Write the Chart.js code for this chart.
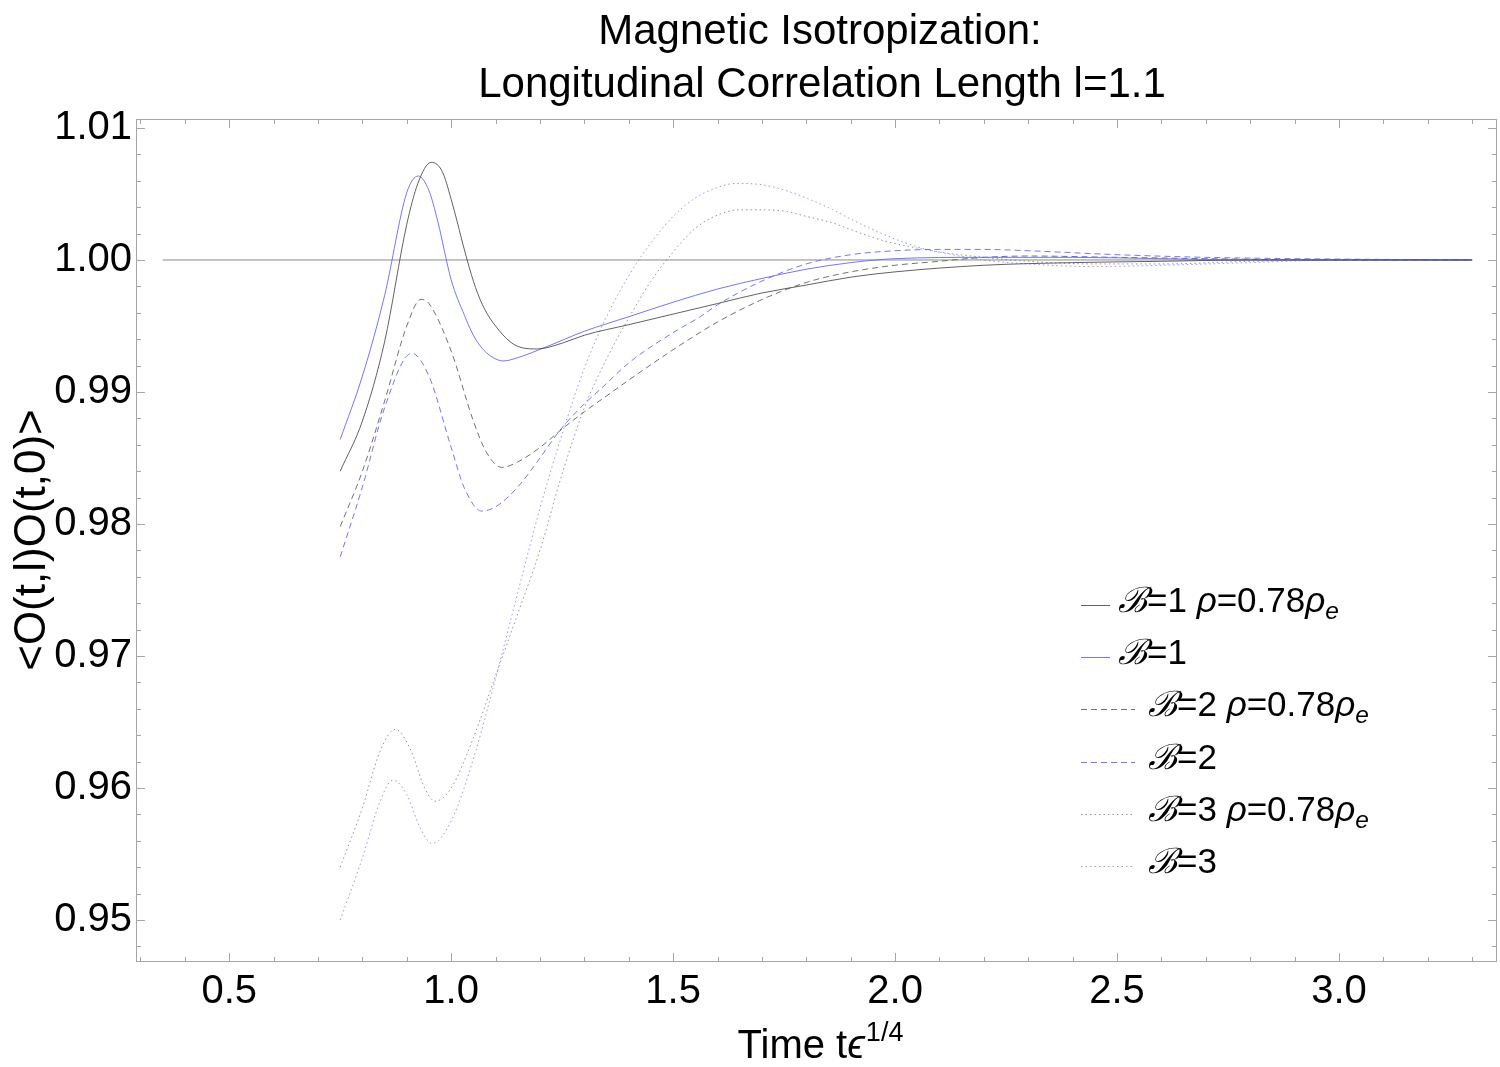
<!DOCTYPE html>
<html><head><meta charset="utf-8">
<script src="https://cdn.jsdelivr.net/npm/chart.js@4.4.1/dist/chart.umd.min.js"></script>
<style>html,body{margin:0;padding:0;background:#fff;}canvas{display:block;}</style>
</head><body>
<canvas id="c" width="1500" height="1067"></canvas>
<script>
// ---------- data ----------
const titleLines = ["Magnetic Isotropization:", "Longitudinal Correlation Length l=1.1"];
const xTicks = [0.5, 1.0, 1.5, 2.0, 2.5, 3.0];
const yTicks = [0.95, 0.96, 0.97, 0.98, 0.99, 1.00, 1.01];
const seriesLabels = ["ℬ=1 ρ=0.78ρ_e", "ℬ=1", "ℬ=2 ρ=0.78ρ_e", "ℬ=2", "ℬ=3 ρ=0.78ρ_e", "ℬ=3"];

// B=1, rho=0.78 rho_e (solid gray)
const tB1r = [0.75,0.80,0.85,0.90,0.925,0.955,0.98,1.00,1.036,1.055,1.075,1.10,1.133,1.16,1.194,1.25,1.30,1.40,1.50,1.60,1.70,1.80,1.90,2.00,2.20,2.40,2.60,2.80,3.00,3.30];
const vB1r = [0.9840,0.9878,0.9938,1.0027,1.0058,1.0074,1.0067,1.0046,1.0000,0.9979,0.9963,0.9950,0.9938,0.99335,0.99326,0.9937,0.9943,0.9951,0.9959,0.9967,0.9975,0.9981,0.9987,0.9991,0.9996,0.9998,0.9999,1.0000,1.0000,1.0000];
// B=1 (solid blue)
const tB1 = [0.75,0.80,0.85,0.90,0.926,0.95,0.97,1.00,1.03,1.05,1.07,1.09,1.117,1.15,1.215,1.30,1.40,1.50,1.60,1.70,1.80,1.90,2.00,2.20,2.40,2.60,2.80,3.00,3.30];
const vB1 = [0.9864,0.9912,0.9973,1.0051,1.00636,1.00525,1.0029,0.9985,0.9958,0.9943,0.9933,0.9927,0.99235,0.9926,0.99343,0.9946,0.9957,0.9968,0.9978,0.9986,0.9993,0.9998,1.0001,1.0002,1.0002,1.0001,1.0000,1.0000,1.0000];
// B=2, rho=0.78 rho_e (dashed gray)
const tB2r = [0.75,0.80,0.85,0.90,0.932,0.95,1.00,1.05,1.08,1.114,1.15,1.20,1.25,1.30,1.35,1.40,1.50,1.60,1.70,1.80,1.90,2.00,2.10,2.20,2.30,2.50,2.70,3.00,3.30];
const vB2r = [0.9798,0.9840,0.9893,0.9950,0.99702,0.9967,0.9931,0.9878,0.9854,0.98429,0.9847,0.9858,0.9872,0.9885,0.9897,0.9909,0.9932,0.9953,0.9970,0.9983,0.9991,0.9996,0.9999,1.0002,1.0003,1.0002,1.0001,1.0000,1.0000];
// B=2 (dashed blue)
const tB2 = [0.75,0.80,0.85,0.911,0.95,1.00,1.03,1.069,1.10,1.15,1.20,1.245,1.30,1.336,1.40,1.50,1.561,1.60,1.70,1.80,1.90,2.00,2.10,2.20,2.30,2.50,2.70,2.90,3.30];
const vB2 = [0.9775,0.9828,0.9888,0.99293,0.9912,0.9858,0.9827,0.98098,0.9813,0.9828,0.9850,0.9871,0.9891,0.9902,0.9922,0.9945,0.9957,0.9966,0.9984,0.9997,1.0004,1.0007,1.0008,1.0008,1.0007,1.0004,1.0002,1.0001,1.0000];
// B=3, rho=0.78 rho_e (dotted gray)
const tB3r = [0.75,0.80,0.84,0.874,0.91,0.94,0.964,1.00,1.05,1.10,1.15,1.20,1.25,1.30,1.35,1.40,1.45,1.50,1.55,1.60,1.65,1.70,1.75,1.80,1.86,1.90,1.97,2.05,2.10,2.20,2.30,2.45,2.60,2.80,3.00,3.30];
const vB3r = [0.9540,0.9585,0.9628,0.96444,0.9628,0.9600,0.9590,0.9600,0.9638,0.9685,0.9732,0.9780,0.9838,0.9888,0.9925,0.9956,0.9984,1.0006,1.0024,1.0034,1.0038,1.0038,1.0037,1.0033,1.0028,1.0023,1.0015,1.0009,1.0006,1.0002,0.9999,0.9997,0.9997,0.9999,1.0000,1.0000];
// B=3 (dotted blue)
const tB3 = [0.75,0.80,0.84,0.869,0.90,0.93,0.957,1.00,1.05,1.10,1.15,1.20,1.25,1.30,1.35,1.40,1.45,1.50,1.55,1.60,1.643,1.70,1.75,1.80,1.86,1.90,1.97,2.05,2.10,2.20,2.30,2.45,2.60,2.80,3.00,3.30];
const vB3 = [0.9500,0.9547,0.9590,0.9606,0.9595,0.9570,0.9558,0.9575,0.9622,0.9683,0.9748,0.9812,0.9868,0.9918,0.9957,0.9988,1.0013,1.0033,1.0047,1.0055,1.0058,1.0057,1.0053,1.0047,1.0038,1.0031,1.0020,1.0010,1.0006,1.0000,0.9997,0.9995,0.9996,0.9998,1.0000,1.0000];
// reference line at 1
const tRef = [0.35, 3.30];
const vRef = [1.0, 1.0];

// ---------- helpers ----------
const FONT = "'Liberation Sans', Arial, sans-serif";
const pts = (t, v) => t.map((x, i) => ({x: x, y: v[i]}));

const styles = [
  {c: 'rgba(70,70,70,0.85)', d: []},
  {c: 'rgba(110,110,255,0.95)', d: []},
  {c: 'rgba(90,90,90,0.85)', d: [6, 4]},
  {c: 'rgba(110,110,255,0.95)', d: [6, 4]},
  {c: 'rgba(120,120,120,0.8)', d: [1.5, 3]},
  {c: 'rgba(130,130,255,0.85)', d: [1.5, 3]}
];
const seriesData = [pts(tB1r, vB1r), pts(tB1, vB1), pts(tB2r, vB2r), pts(tB2, vB2), pts(tB3r, vB3r), pts(tB3, vB3)];

const datasets = seriesData.map((d, i) => ({
  label: seriesLabels[i], data: d, borderColor: styles[i].c, borderDash: styles[i].d,
  borderWidth: 1, pointRadius: 0, fill: false, cubicInterpolationMode: 'monotone'
}));
datasets.push({label: 'ref', data: pts(tRef, vRef), borderColor: '#8a8a8a', borderWidth: 1, pointRadius: 0, fill: false});

function drawRich(ctx, x, y, label, size) {
  const parts = [];
  let i = 0;
  while (i < label.length) {
    const ch = label[i];
    if (ch === '_') { parts.push({t: label[i + 1], it: true, sub: true}); i += 2; continue; }
    if (ch === 'ℬ' || ch === 'ρ') { parts.push({t: ch, it: true}); i++; continue; }
    let s = '';
    while (i < label.length && label[i] !== '_' && label[i] !== 'ℬ' && label[i] !== 'ρ') { s += label[i]; i++; }
    parts.push({t: s, it: false});
  }
  let cx = x;
  for (const p of parts) {
    const sz = p.sub ? size * 0.7 : size;
    ctx.font = (p.it ? 'italic ' : '') + sz + 'px ' + FONT;
    ctx.fillText(p.t, cx, p.sub ? y + size * 0.22 : y);
    cx += ctx.measureText(p.t).width;
  }
}

const deco = {
  id: 'deco',
  afterDraw(chart) {
    const {ctx, chartArea: a, scales: {x, y}} = chart;
    ctx.save();
    ctx.strokeStyle = '#a6a6a6';
    ctx.lineWidth = 1;
    ctx.setLineDash([]);
    ctx.strokeRect(Math.round(a.left) + 0.5, Math.round(a.top) + 0.5, Math.round(a.right - a.left) - 1, Math.round(a.bottom - a.top) - 1);
    ctx.beginPath();
    for (let i = 3; i <= 33; i++) {
      const px = Math.round(x.getPixelForValue(i / 10)) + 0.5;
      const L = (i % 5 === 0) ? 9 : 5;
      ctx.moveTo(px, a.bottom); ctx.lineTo(px, a.bottom - L);
      ctx.moveTo(px, a.top); ctx.lineTo(px, a.top + L);
    }
    for (let i = 474; i <= 505; i++) {
      const py = Math.round(y.getPixelForValue(i * 0.002)) + 0.5;
      const L = (i % 5 === 0) ? 9 : 5;
      ctx.moveTo(a.left, py); ctx.lineTo(a.left + L, py);
      ctx.moveTo(a.right, py); ctx.lineTo(a.right - L, py);
    }
    ctx.stroke();

    ctx.fillStyle = '#000';
    ctx.textAlign = 'center';
    ctx.textBaseline = 'alphabetic';
    ctx.font = '42px ' + FONT;
    ctx.fillText(titleLines[0], 820, 44);
    ctx.fillText(titleLines[1], 822, 97);

    ctx.textAlign = 'left';
    const f1 = '40px ' + FONT, f2 = 'italic 40px ' + FONT, f3 = '27px ' + FONT;
    ctx.font = f1; const w1 = ctx.measureText('Time t').width;
    ctx.font = f2; const w2 = ctx.measureText('ϵ').width;
    ctx.font = f3; const w3 = ctx.measureText('1/4').width;
    let sx = 820 - (w1 + w2 + w3) / 2;
    const by = 1058;
    ctx.font = f1; ctx.fillText('Time t', sx, by); sx += w1;
    ctx.font = f2; ctx.fillText('ϵ', sx, by); sx += w2;
    ctx.font = f3; ctx.fillText('1/4', sx + 1, by - 17);

    ctx.save();
    ctx.translate(45, 540);
    ctx.rotate(-Math.PI / 2);
    ctx.textAlign = 'center';
    ctx.font = '44px ' + FONT;
    ctx.fillText('<O(t,l)O(t,0)>', 0, 0);
    ctx.restore();

    for (let i = 0; i < 6; i++) {
      const ds = chart.data.datasets[i];
      const ly = Math.round(605 + i * 52.2) + 0.5;
      const short = ds.borderDash.length === 0;
      const x0 = 1081, x1 = short ? 1110 : 1135;
      ctx.strokeStyle = ds.borderColor;
      ctx.setLineDash(ds.borderDash);
      ctx.beginPath(); ctx.moveTo(x0, ly); ctx.lineTo(x1, ly); ctx.stroke();
      ctx.setLineDash([]);
      ctx.fillStyle = '#000';
      ctx.textAlign = 'left';
      drawRich(ctx, short ? 1118 : 1148, ly + 6, ds.label, 35);
    }
    ctx.restore();
  }
};

new Chart(document.getElementById('c'), {
  type: 'line',
  data: {datasets: datasets},
  options: {
    responsive: false, animation: false, devicePixelRatio: 1,
    layout: {padding: {top: 119, right: 3, left: 0, bottom: 0}},
    plugins: {legend: {display: false}, title: {display: false}, tooltip: {enabled: false}},
    scales: {
      x: {
        type: 'linear', min: 0.29, max: 3.356,
        afterBuildTicks: s => { s.ticks = xTicks.map(v => ({value: v})); },
        afterFit: s => { s.height = 105; },
        grid: {display: false, drawTicks: false}, border: {display: false},
        ticks: {font: {family: FONT, size: 40}, color: '#000', padding: 6, maxRotation: 0, autoSkip: false,
                callback: v => Number(v).toFixed(1)}
      },
      y: {
        type: 'linear', min: 0.94682, max: 1.01068,
        afterBuildTicks: s => { s.ticks = yTicks.map(v => ({value: v})); },
        afterFit: s => { s.width = 136; },
        grid: {display: false, drawTicks: false}, border: {display: false},
        ticks: {font: {family: FONT, size: 40}, color: '#000', padding: 4, autoSkip: false,
                callback: v => Number(v).toFixed(2)}
      }
    }
  },
  plugins: [deco]
});
</script>
</body></html>
